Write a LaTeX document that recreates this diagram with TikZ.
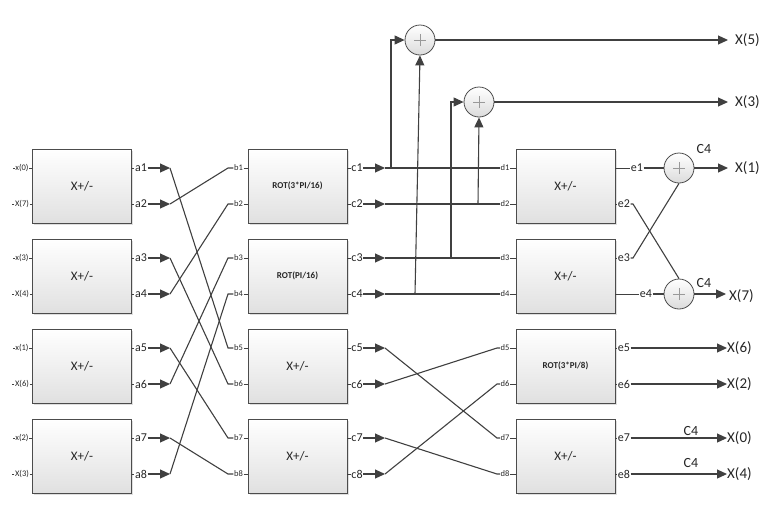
\documentclass[tikz,border=0pt]{standalone}
\usepackage{fontspec}
\setmainfont{Carlito}
\usetikzlibrary{arrows.meta,shadows,calc}
\begin{document}
\begin{tikzpicture}[x=1pt,y=-1pt,
  wire/.style={draw=black!75, line width=1.1pt},
  stub/.style={draw=black!75, line width=0.7pt},
  arr/.style={wire, -{Triangle[length=10pt,width=9pt]}},
  blk/.style={draw=black!70, line width=0.8pt, top color=white, bottom color=black!12,
    minimum width=99pt, minimum height=74pt, inner sep=0pt, text=black!85,
    font=\fontsize{13}{15}\selectfont,
    drop shadow={shadow xshift=1.5pt, shadow yshift=-1.5pt, opacity=0.25}},
  rotblk/.style={blk, font=\bfseries\fontsize{9}{11}\selectfont},
  sm/.style={font=\fontsize{8.5}{10}\selectfont, inner sep=0.5pt, text=black!85},
  pl/.style={font=\fontsize{12}{14}\selectfont, inner sep=0.5pt, text=black!85},
  outl/.style={font=\fontsize{15}{17}\selectfont, inner sep=0pt, anchor=west, text=black!85},
  cfour/.style={font=\fontsize{14}{16}\selectfont, inner sep=0pt, text=black!85},
  sum/.style={circle, draw=black!70, line width=0.8pt, top color=white, bottom color=black!14,
    minimum size=30pt, inner sep=0pt,
    path picture={\draw[black!40, line width=0.6pt]
      ([xshift=-6pt]path picture bounding box.center) -- ([xshift=6pt]path picture bounding box.center)
      ([yshift=-6pt]path picture bounding box.center) -- ([yshift=6pt]path picture bounding box.center);}}
]
\useasboundingbox (0,0) rectangle (767,523);

% blocks
\node[blk] (P1) at (82,186) {X+/-};
\node[blk] (P2) at (82,276) {X+/-};
\node[blk] (P3) at (82,366) {X+/-};
\node[blk] (P4) at (82,456) {X+/-};
\node[rotblk] (Q1) at (297.5,186) {ROT(3*PI/16)};
\node[rotblk] (Q2) at (297.5,276) {ROT(PI/16)};
\node[blk] (Q3) at (297.5,366) {X+/-};
\node[blk] (Q4) at (297.5,456) {X+/-};
\node[blk] (R1) at (565.5,186) {X+/-};
\node[blk] (R2) at (565.5,276) {X+/-};
\node[rotblk] (R3) at (565.5,366) {ROT(3*PI/8)};
\node[blk] (R4) at (565.5,456) {X+/-};

% input labels
\foreach \i/\y/\t in {1/168/x(0),2/204/X(7),3/258/x(3),4/294/X(4),5/348/x(1),6/384/X(6),7/438/x(2),8/474/X(3)}{
  \node[sm] (in\i) at (22,\y) {\t};
}

% port labels and coordinates
\foreach \i/\y in {1/168,2/204,3/258,4/294,5/348,6/384,7/438,8/474}{
  \pgfmathtruncatemacro\k{(\i+1)/2}
  \node[pl] (a\i) at (141,\y) {a\i};
  \node[sm] (b\i) at (238.5,\y) {b\i};
  \node[pl] (c\i) at (357,\y) {c\i};
  \node[sm] (d\i) at (505,\y) {d\i};
  \coordinate (ta\i) at (170,\y);
  \coordinate (jb\i) at (228,\y);
  \coordinate (tc\i) at (385,\y);
  \coordinate (jd\i) at (497,\y);
  \draw[stub] (in\i.west) -- ++(-2,0);
  \draw[stub] (in\i.east) -- (in\i.east -| P\k.west);
  \draw[stub] (P\k.east |- a\i) -- (a\i.west);
  \draw[arr] (a\i.east) -- (ta\i);
  \draw[stub] (b\i.east) -- (Q\k.west |- b\i);
  \draw[stub] (Q\k.east |- c\i) -- (c\i.west);
  \draw[arr] (c\i.east) -- (tc\i);
  \draw[stub] (d\i.east) -- (R\k.west |- d\i);
}

\node[pl] (e1) at (637,168) {e1};
\node[pl] (e2) at (624,204) {e2};
\node[pl] (e3) at (624,258) {e3};
\node[pl] (e4) at (646,294) {e4};
\node[pl] (e5) at (624,348) {e5};
\node[pl] (e6) at (624,384) {e6};
\node[pl] (e7) at (624,438) {e7};
\node[pl] (e8) at (624,474) {e8};
\draw[stub] (R1.east |- e1) -- (e1.west);
\draw[stub] (R1.east |- e2) -- (e2.west);
\draw[stub] (R2.east |- e3) -- (e3.west);
\draw[stub] (R2.east |- e4) -- (e4.west);
\draw[stub] (R3.east |- e5) -- (e5.west);
\draw[stub] (R3.east |- e6) -- (e6.west);
\draw[stub] (R4.east |- e7) -- (e7.west);
\draw[stub] (R4.east |- e8) -- (e8.west);

% first shuffle a -> b
\foreach \s/\d in {1/5,2/1,3/6,4/2,5/7,6/3,7/8,8/4}{
  \draw[wire] (ta\s) -- (jb\d) -- (b\d.west);
}

% c -> d
\foreach \i in {1,2,3,4}{
  \draw[wire] (tc\i) -- (d\i.west);
}
\foreach \s/\d in {5/7,6/5,7/8,8/6}{
  \draw[wire] (tc\s) -- (jd\d) -- (d\d.west);
}

% top adders
\node[sum] (T1) at (420,40) {};
\node[sum] (T2) at (479,102) {};
\coordinate (v1) at (391,168);
\coordinate (v2) at (415,294);
\coordinate (v3) at (451,258);
\coordinate (v4) at (478,204);
\draw[arr] (v1) |- (T1.west);
\draw[arr] (v2) -- (T1.south);
\draw[arr] (v3) |- (T2.west);
\draw[arr] (v4) -- (T2.south);

\node[outl] (X5) at (735,40) {X(5)};
\node[outl] (X3) at (735,102) {X(3)};
\draw[arr, shorten >=7pt] (T1.east) -- (X5.west);
\draw[arr, shorten >=7pt] (T2.east) -- (X3.west);

% right adders
\node[sum] (S1) at (679,168) {};
\node[sum] (S2) at (679,294) {};
\coordinate (ke2) at (633,204);
\coordinate (ke3) at (633,258);
\draw[wire] (e1.east) -- (S1.west);
\draw[wire] (e4.east) -- (S2.west);
\draw[wire] (e2.east) -- (ke2) -- (S2.north);
\draw[wire] (e3.east) -- (ke3) -- (S1.south);

\node[outl] (X1) at (735,168) {X(1)};
\node[outl] (X7) at (729,296) {X(7)};
\node[outl] (X6) at (727,348) {X(6)};
\node[outl] (X2) at (727,384) {X(2)};
\node[outl] (X0) at (727,438) {X(0)};
\node[outl] (X4) at (727,474) {X(4)};
\draw[arr, shorten >=7pt] (S1.east) -- (X1.west);
\draw[arr, shorten >=3pt] (S2.east) -- (X7.west |- S2.east);
\draw[arr] (e5.east) -- (X6.west);
\draw[arr] (e6.east) -- (X2.west);
\draw[arr] (e7.east) -- (X0.west);
\draw[arr] (e8.east) -- (X4.west);

\node[cfour] (C1) at (704,149) {C4};
\node[cfour] (C2) at (704,283) {C4};
\node[cfour] (C3) at (691,431) {C4};
\node[cfour] (C4n) at (691,463) {C4};
\end{tikzpicture}
\end{document}
